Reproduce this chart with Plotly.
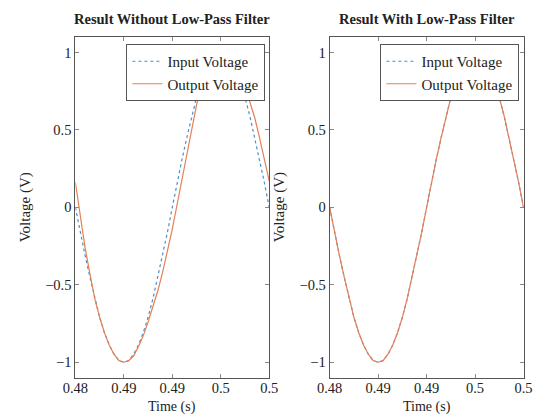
import plotly.graph_objects as go

# Time axis samples (s)
time_s = [0.48 + 0.0005 * k for k in range(41)]

# Left: without low-pass filter
input_left = [0.00, -0.16, -0.31, -0.45, -0.59, -0.71, -0.81, -0.89, -0.95, -0.99,
              -1.00, -0.99, -0.95, -0.89, -0.81, -0.71, -0.59, -0.45, -0.31, -0.16,
              0.00, 0.16, 0.31, 0.45, 0.59, 0.71, 0.81, 0.89, 0.95, 0.99,
              1.00, 0.99, 0.95, 0.89, 0.81, 0.71, 0.59, 0.45, 0.31, 0.16, 0.00]
output_left = [0.16, -0.06, -0.26, -0.43, -0.59, -0.71, -0.81, -0.89, -0.95, -0.99,
               -1.00, -0.99, -0.96, -0.90, -0.83, -0.74, -0.64, -0.54, -0.42, -0.29,
               -0.14, 0.02, 0.18, 0.35, 0.51, 0.66, 0.79, 0.88, 0.95, 0.99,
               1.00, 0.99, 0.96, 0.92, 0.86, 0.78, 0.68, 0.58, 0.45, 0.32, 0.17]

# Right: with low-pass filter
input_right = [0.00, -0.16, -0.31, -0.45, -0.59, -0.71, -0.81, -0.89, -0.95, -0.99,
               -1.00, -0.99, -0.95, -0.89, -0.81, -0.71, -0.59, -0.45, -0.31, -0.16,
               0.00, 0.16, 0.31, 0.45, 0.59, 0.71, 0.81, 0.89, 0.95, 0.99,
               1.00, 0.99, 0.95, 0.89, 0.81, 0.71, 0.59, 0.45, 0.31, 0.16, 0.00]
output_right = [0.00, -0.16, -0.31, -0.45, -0.59, -0.71, -0.81, -0.89, -0.95, -0.99,
                -1.00, -0.99, -0.95, -0.89, -0.81, -0.71, -0.59, -0.45, -0.31, -0.16,
                0.00, 0.16, 0.31, 0.45, 0.59, 0.71, 0.81, 0.89, 0.95, 0.99,
                1.00, 0.99, 0.95, 0.89, 0.81, 0.71, 0.59, 0.45, 0.31, 0.16, 0.00]

x_tickvals = [0.48, 0.485, 0.49, 0.495, 0.5]
x_ticktext = ["0.48", "0.49", "0.49", "0.5", "0.5"]
y_tickvals = [-1, -0.5, 0, 0.5, 1]
y_ticktext = ["\u22121", "\u22120.5", "0", "0.5", "1"]

titles = ["Result Without Low-Pass Filter", "Result With Low-Pass Filter"]

W, H = 545, 415
BLUE = "#4a8fc9"
ORANGE = "#e67f55"
FONT = "Liberation Serif"
TXT = "#222222"

fig = go.Figure()

fig.add_trace(go.Scatter(x=time_s, y=input_left, mode="lines", name="Input Voltage",
                         line=dict(color=BLUE, width=1.2, dash="3px,3px"),
                         xaxis="x", yaxis="y", legend="legend"))
fig.add_trace(go.Scatter(x=time_s, y=output_left, mode="lines", name="Output Voltage",
                         line=dict(color=ORANGE, width=1.2),
                         xaxis="x", yaxis="y", legend="legend"))
fig.add_trace(go.Scatter(x=time_s, y=input_right, mode="lines", name="Input Voltage",
                         line=dict(color=BLUE, width=1.2, dash="3px,3px"),
                         xaxis="x2", yaxis="y2", legend="legend2"))
fig.add_trace(go.Scatter(x=time_s, y=output_right, mode="lines", name="Output Voltage",
                         line=dict(color=ORANGE, width=1.2),
                         xaxis="x2", yaxis="y2", legend="legend2"))

ydom = [(H - 377.7) / H, (H - 37) / H]
x1dom = [65 / W, 267 / W]
x2dom = [330 / W, 532 / W]

axis_common = dict(showgrid=False, zeroline=False, showline=True, mirror="ticks",
                   linecolor="#555555", linewidth=1, ticks="inside", ticklen=4,
                   tickcolor="#8a8a8a", tickwidth=1,
                   tickfont=dict(family=FONT, size=14.5, color=TXT))

legend_common = dict(xanchor="right", yanchor="top", bgcolor="white",
                     bordercolor="#555555", borderwidth=1,
                     font=dict(family=FONT, size=15, color=TXT),
                     tracegroupgap=0, itemwidth=30)

fig.update_layout(
    width=W, height=H,
    margin=dict(l=0, r=0, t=0, b=0),
    paper_bgcolor="white", plot_bgcolor="white",
    font=dict(family=FONT, color=TXT),
    xaxis=dict(domain=x1dom, range=[0.48, 0.5], tickvals=x_tickvals, ticktext=x_ticktext,
               anchor="y", ticklabelstandoff=-3, **axis_common),
    yaxis=dict(domain=ydom, range=[-1.1, 1.1], tickvals=y_tickvals, ticktext=y_ticktext,
               anchor="x", **axis_common),
    xaxis2=dict(domain=x2dom, range=[0.48, 0.5], tickvals=x_tickvals, ticktext=x_ticktext,
                anchor="y2", ticklabelstandoff=-3, **axis_common),
    yaxis2=dict(domain=ydom, range=[-1.1, 1.1], tickvals=y_tickvals, ticktext=y_ticktext,
                anchor="x2", **axis_common),
    legend=dict(x=263 / W, y=(H - 44) / H, **legend_common),
    legend2=dict(x=527.7 / W, y=(H - 44) / H, **legend_common),
    showlegend=True,
)

annotations = []
for title, (a, b) in zip(titles, [x1dom, x2dom]):
    annotations.append(dict(text="<b>" + title + "</b>", x=(a + b) / 2, y=(H - 19) / H,
                            xref="paper", yref="paper", showarrow=False,
                            xanchor="center", yanchor="middle",
                            font=dict(family=FONT, size=14.5, color=TXT)))
    annotations.append(dict(text="Time (s)", x=(a + b) / 2, y=0,
                            xref="paper", yref="paper", showarrow=False,
                            xanchor="center", yanchor="bottom", yshift=-2,
                            font=dict(family=FONT, size=14, color=TXT)))
for xpx in [12.5, 278]:
    annotations.append(dict(text="Voltage (V)", x=xpx / W, y=(ydom[0] + ydom[1]) / 2,
                            xref="paper", yref="paper", showarrow=False, textangle=-90,
                            xanchor="center", yanchor="middle",
                            font=dict(family=FONT, size=15, color=TXT)))
fig.update_layout(annotations=annotations)

fig.write_html("out.html")
